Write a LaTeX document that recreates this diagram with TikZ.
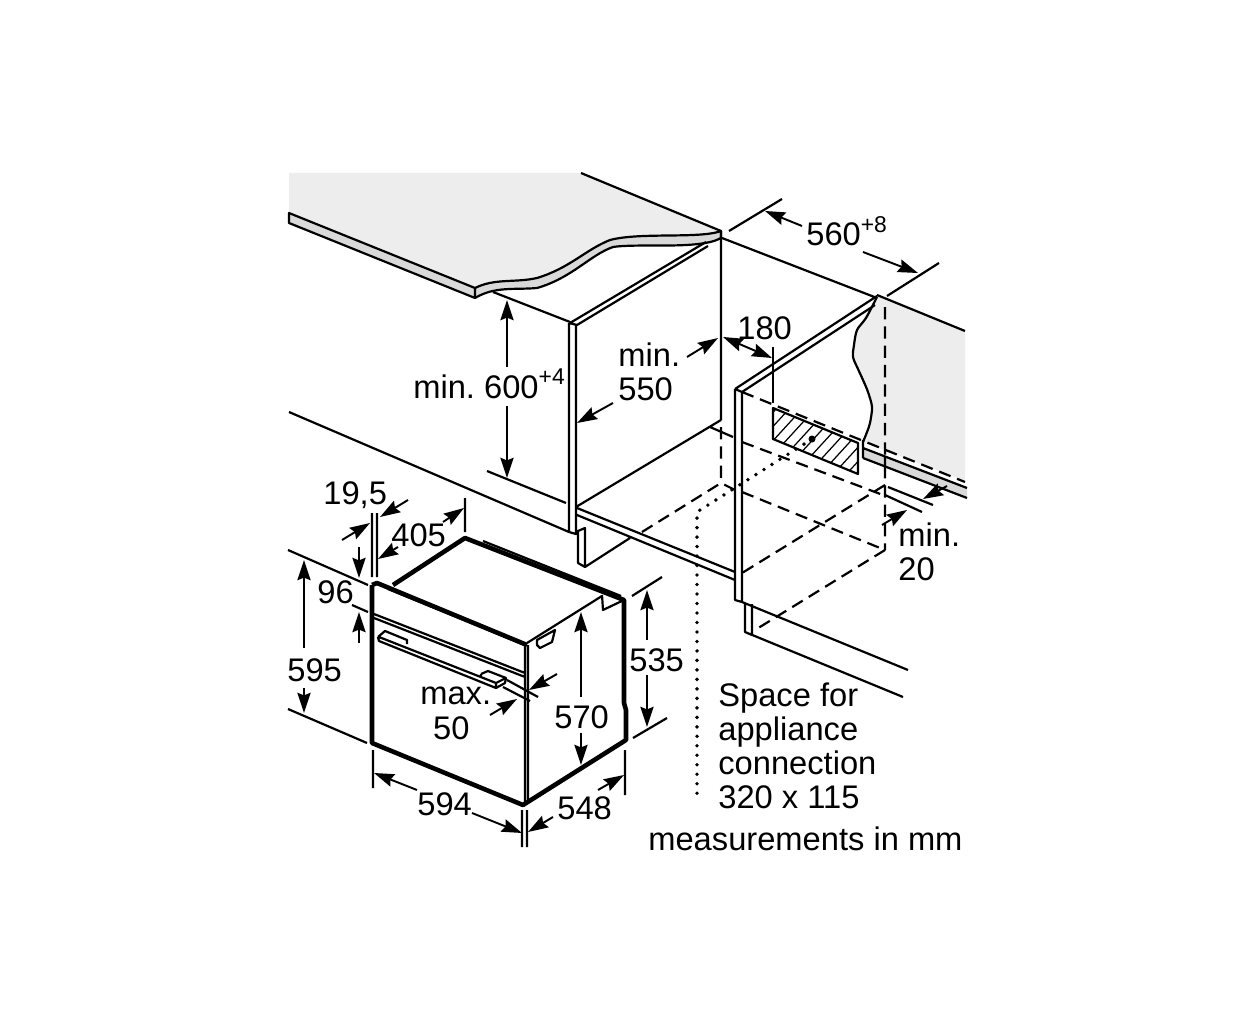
\documentclass[tikz,border=0pt]{standalone}
\usepackage{fontspec}
\setmainfont{Liberation Sans}
\usetikzlibrary{arrows.meta}
\newcommand{\supr}[1]{\raisebox{7.5pt}{\fontsize{13}{15}\selectfont #1}}
\tikzset{
	thin line/.style={line width=1.25pt},
	heavy/.style={line width=2.6pt},
	hidden/.style={line width=1.25pt, dash pattern=on 7pt off 4pt},
	dots/.style={line width=2.2pt, line cap=round, dash pattern=on 0pt off 5.4pt},
	dim/.style={line width=1.1pt, -{Stealth[length=11.5pt,width=7.5pt,inset=1.5pt]}},
	both dim/.style={line width=1.1pt, {Stealth[length=11.5pt,width=7.5pt,inset=1.5pt]}-{Stealth[length=11.5pt,width=7.5pt,inset=1.5pt]}},
	lbl/.style={anchor=base west, inner sep=0pt},
	blocklbl/.style={anchor=north west, inner sep=0pt, align=left}
}
\begin{document}
\begin{tikzpicture}[x=0.02cm, y=-0.02cm, line join=round, font=\frenchspacing\fontsize{18.6}{19.4}\selectfont]
	\useasboundingbox (0,0) rectangle (1252,1024);
	%Worktop left
	\fill[black!7] (289,173)--(581,173)--(721,231)
		.. controls (700,239) and (640,232) .. (610,240)
		.. controls (585,250) and (570,268) .. (537,278)
		.. controls (515,283) and (495,278) .. (475,288)--(289,213)--cycle;
	\fill[black!15] (289,213)--(475,288)
		.. controls (495,278) and (515,283) .. (537,278)
		.. controls (570,268) and (585,250) .. (610,240)
		.. controls (640,232) and (700,239) .. (721,231)--(721,238)
		.. controls (700,250) and (640,243) .. (613,247)
		.. controls (590,255) and (572,278) .. (537,288)
		.. controls (515,290) and (495,286) .. (475,298)--(289,223)--cycle;
	\draw[thin line] (289,213)--(475,288)
		.. controls (495,278) and (515,283) .. (537,278)
		.. controls (570,268) and (585,250) .. (610,240)
		.. controls (640,232) and (700,239) .. (721,231)--(721,238)
		.. controls (700,250) and (640,243) .. (613,247)
		.. controls (590,255) and (572,278) .. (537,288)
		.. controls (515,290) and (495,286) .. (475,298)--(289,223)--cycle;
	\draw[thin line] (475,288)--(475,298) (581,173)--(721,231);
	%Worktop right
	\fill[black!7] (877,295)--(965,331)--(965,481)--(863,442)--(863,442)
		--(870,423)--(872,407)--(863,380)--(853,357)--(857,330)--cycle;
	\fill[black!15] (863,448)--(967,488)--(967,498)--(863,458)--cycle;
	\draw[thin line] plot[smooth, tension=0.5] coordinates {(877,297) (866,318) (857,330) (854,345) (853,357) (858,369) (863,380) (868,392) (872,407) (870,423) (867,432) (863,442)};
	\draw[thin line] (877,295)--(965,331) (863,440)--(863,458) (863,448)--(967,488) (863,458)--(967,498) (885,456)--(885,466);
	%Left cabinet
	\draw[thin line] (721,231)--(721,420) (493,292)--(570,322)
		(570,323)--(706,242) (577,325)--(708,246)
		(569,323)--(569,532)--(576,534)--(576,325) (569,323)--(577,325)
		(576,507)--(721,420) (710,427)--(733,437)
		(289,412)--(569,532) (487,471)--(566,503)
		(577,508)--(735,572) (577,515)--(735,580)
		(578,530)--(578,563)--(585,567)--(585,528)--(578,531) (585,567)--(630,538);
	%Right cabinet
	\draw[thin line] (722,238)--(877,298) (735,389)--(877,296) (742,392)--(875,305)
		(735,389)--(742,392) (735,389)--(735,600)--(742,602)--(742,392)
		(745,603)--(745,632)--(752,635)--(752,604)
		(742,602)--(908,670) (745,632)--(903,697);
	%Hidden edges
	\draw[hidden] (721,427)--(721,483) (642,532)--(721,483)--(735,490)
		(742,492)--(885,550) (885,307)--(885,456) (885,466)--(885,550)
		(885,550)--(755,630) (885,485)--(742,573) (742,392)--(965,482)
		(742,442)--(883,495);
	\draw[thin line] (888,487)--(933,505) (885,495)--(922,512);
	\draw[dots] (812,439)--(697,512)--(697,795);
	%Connection space
	\begin{scope}
		\clip (773,408)--(858,443)--(858,474)--(773,439)--cycle;
		\foreach \hx in {0,...,12}
			\draw[line width=0.7pt] (711+13*\hx,480)--(711+13*\hx+76,397);
	\end{scope}
	\draw[thin line] (773,408)--(858,443)--(858,474)--(773,439)--cycle;
	\fill (812,439) circle (3.5);
	\draw[thin line] (773,347)--(773,403);
	%Oven
	\draw[heavy] (372,585)--(372,743)--(523,805)--(626,740)--(626,710)--(624,703)--(624,600)--(465,538)--(393,585) (372,585)--(377,583)--(527,645);
	\draw[thin line] (483,541)--(621,596) (602,595)--(603,610)--(624,600)
		(527,643)--(602,596) (525,643)--(525,803) (528,645)--(528,802)
		(388,589)--(525,645) (374,614)--(525,673) (374,618)--(525,677);
	%Handle
	\draw[thin line] (378,637)--(385,631)--(407,640)--(407,644) (378,637)--(379,641)--(496,688)--(496,683)--(379,637)
		(481,674)--(488,671)--(506,678)--(505,683)--(496,688) (481,674)--(481,677) (496,683)--(506,678);
	\draw[thin line] (537,640)--(555,630)--(552,642)--(540,648)--(537,645)--cycle;
	%Dimensions
	\draw[thin line] (729,231)--(782,199) (887,296)--(939,263)
		(288,550)--(368,585) (288,709)--(367,743) (352,605)--(368,612)
		(372,513)--(372,577) (377,513)--(377,577) (465,498)--(465,532)
		(632,596)--(662,577) (633,738)--(667,718)
		(373,750)--(373,788) (522,810)--(522,847) (527,810)--(527,847) (625,750)--(625,795)
		(503,687)--(530,701) (507,680)--(538,697);
	\draw[dim] (507,367)--(507,300); \draw[dim] (507,406)--(507,478);
	\draw[dim] (687,357)--(718,338); \draw[dim] (613,403)--(577,423);
	\draw[both dim] (723,337)--(772,358);
	\draw[dim] (802,226)--(765,211); \draw[dim] (863,252)--(918,273);
	\draw[dim] (882,525)--(907,510); \draw[dim] (947,486)--(923,499);
	\draw[dim] (304,648)--(304,560); \draw[dim] (304,688)--(304,713);
	\draw[dim] (359,547)--(359,578); \draw[dim] (359,643)--(359,612);
	\draw[dim] (342,540)--(370,523); \draw[dim] (408,500)--(380,517);
	\draw[dim] (443,522)--(464,508); \draw[dim] (398,547)--(378,559);
	\draw[dim] (647,640)--(647,590); \draw[dim] (647,675)--(647,727);
	\draw[dim] (581,697)--(581,612); \draw[dim] (581,733)--(581,765);
	\draw[dim] (417,790)--(374,773); \draw[dim] (472,813)--(522,833);
	\draw[dim] (553,817)--(528,832); \draw[dim] (598,790)--(624,775);
	\draw[dim] (490,715)--(517,699); \draw[dim] (557,674)--(529,690);
	%Labels
	\node (lblHeight) [lbl] at (413,398) {min. 600\supr{+4}};
	\node (lblDepth) [blocklbl] at (618,342) {min.\\550};
	\node (lblGap) [lbl] at (737,339) {180};
	\node (lblWidth) [lbl] at (806,246) {560\supr{+8}};
	\node (lblSide) [blocklbl] at (898,522) {min.\\20};
	\node (lblSpace) [blocklbl] at (718,682) {Space for\\appliance\\connection\\320 x 115};
	\node (lblUnit) [lbl] at (648,850) {measurements in mm};
	\node (lblFlange) [lbl] at (323,504) {19,5};
	\node (lblDoor) [lbl] at (391,546) {405};
	\node (lblPanel) [lbl] at (317,603) {96};
	\node (lblFront) [lbl] at (287,681) {595};
	\node (lblMax) [blocklbl,align=center] at (420,687) {max.\\50\kern5pt};
	\node (lblBody) [lbl] at (554,728) {570};
	\node (lblBack) [lbl] at (629,671) {535};
	\node (lblOvenW) [lbl] at (417,815) {594};
	\node (lblOvenD) [lbl] at (557,819) {548};
\end{tikzpicture}
\end{document}
